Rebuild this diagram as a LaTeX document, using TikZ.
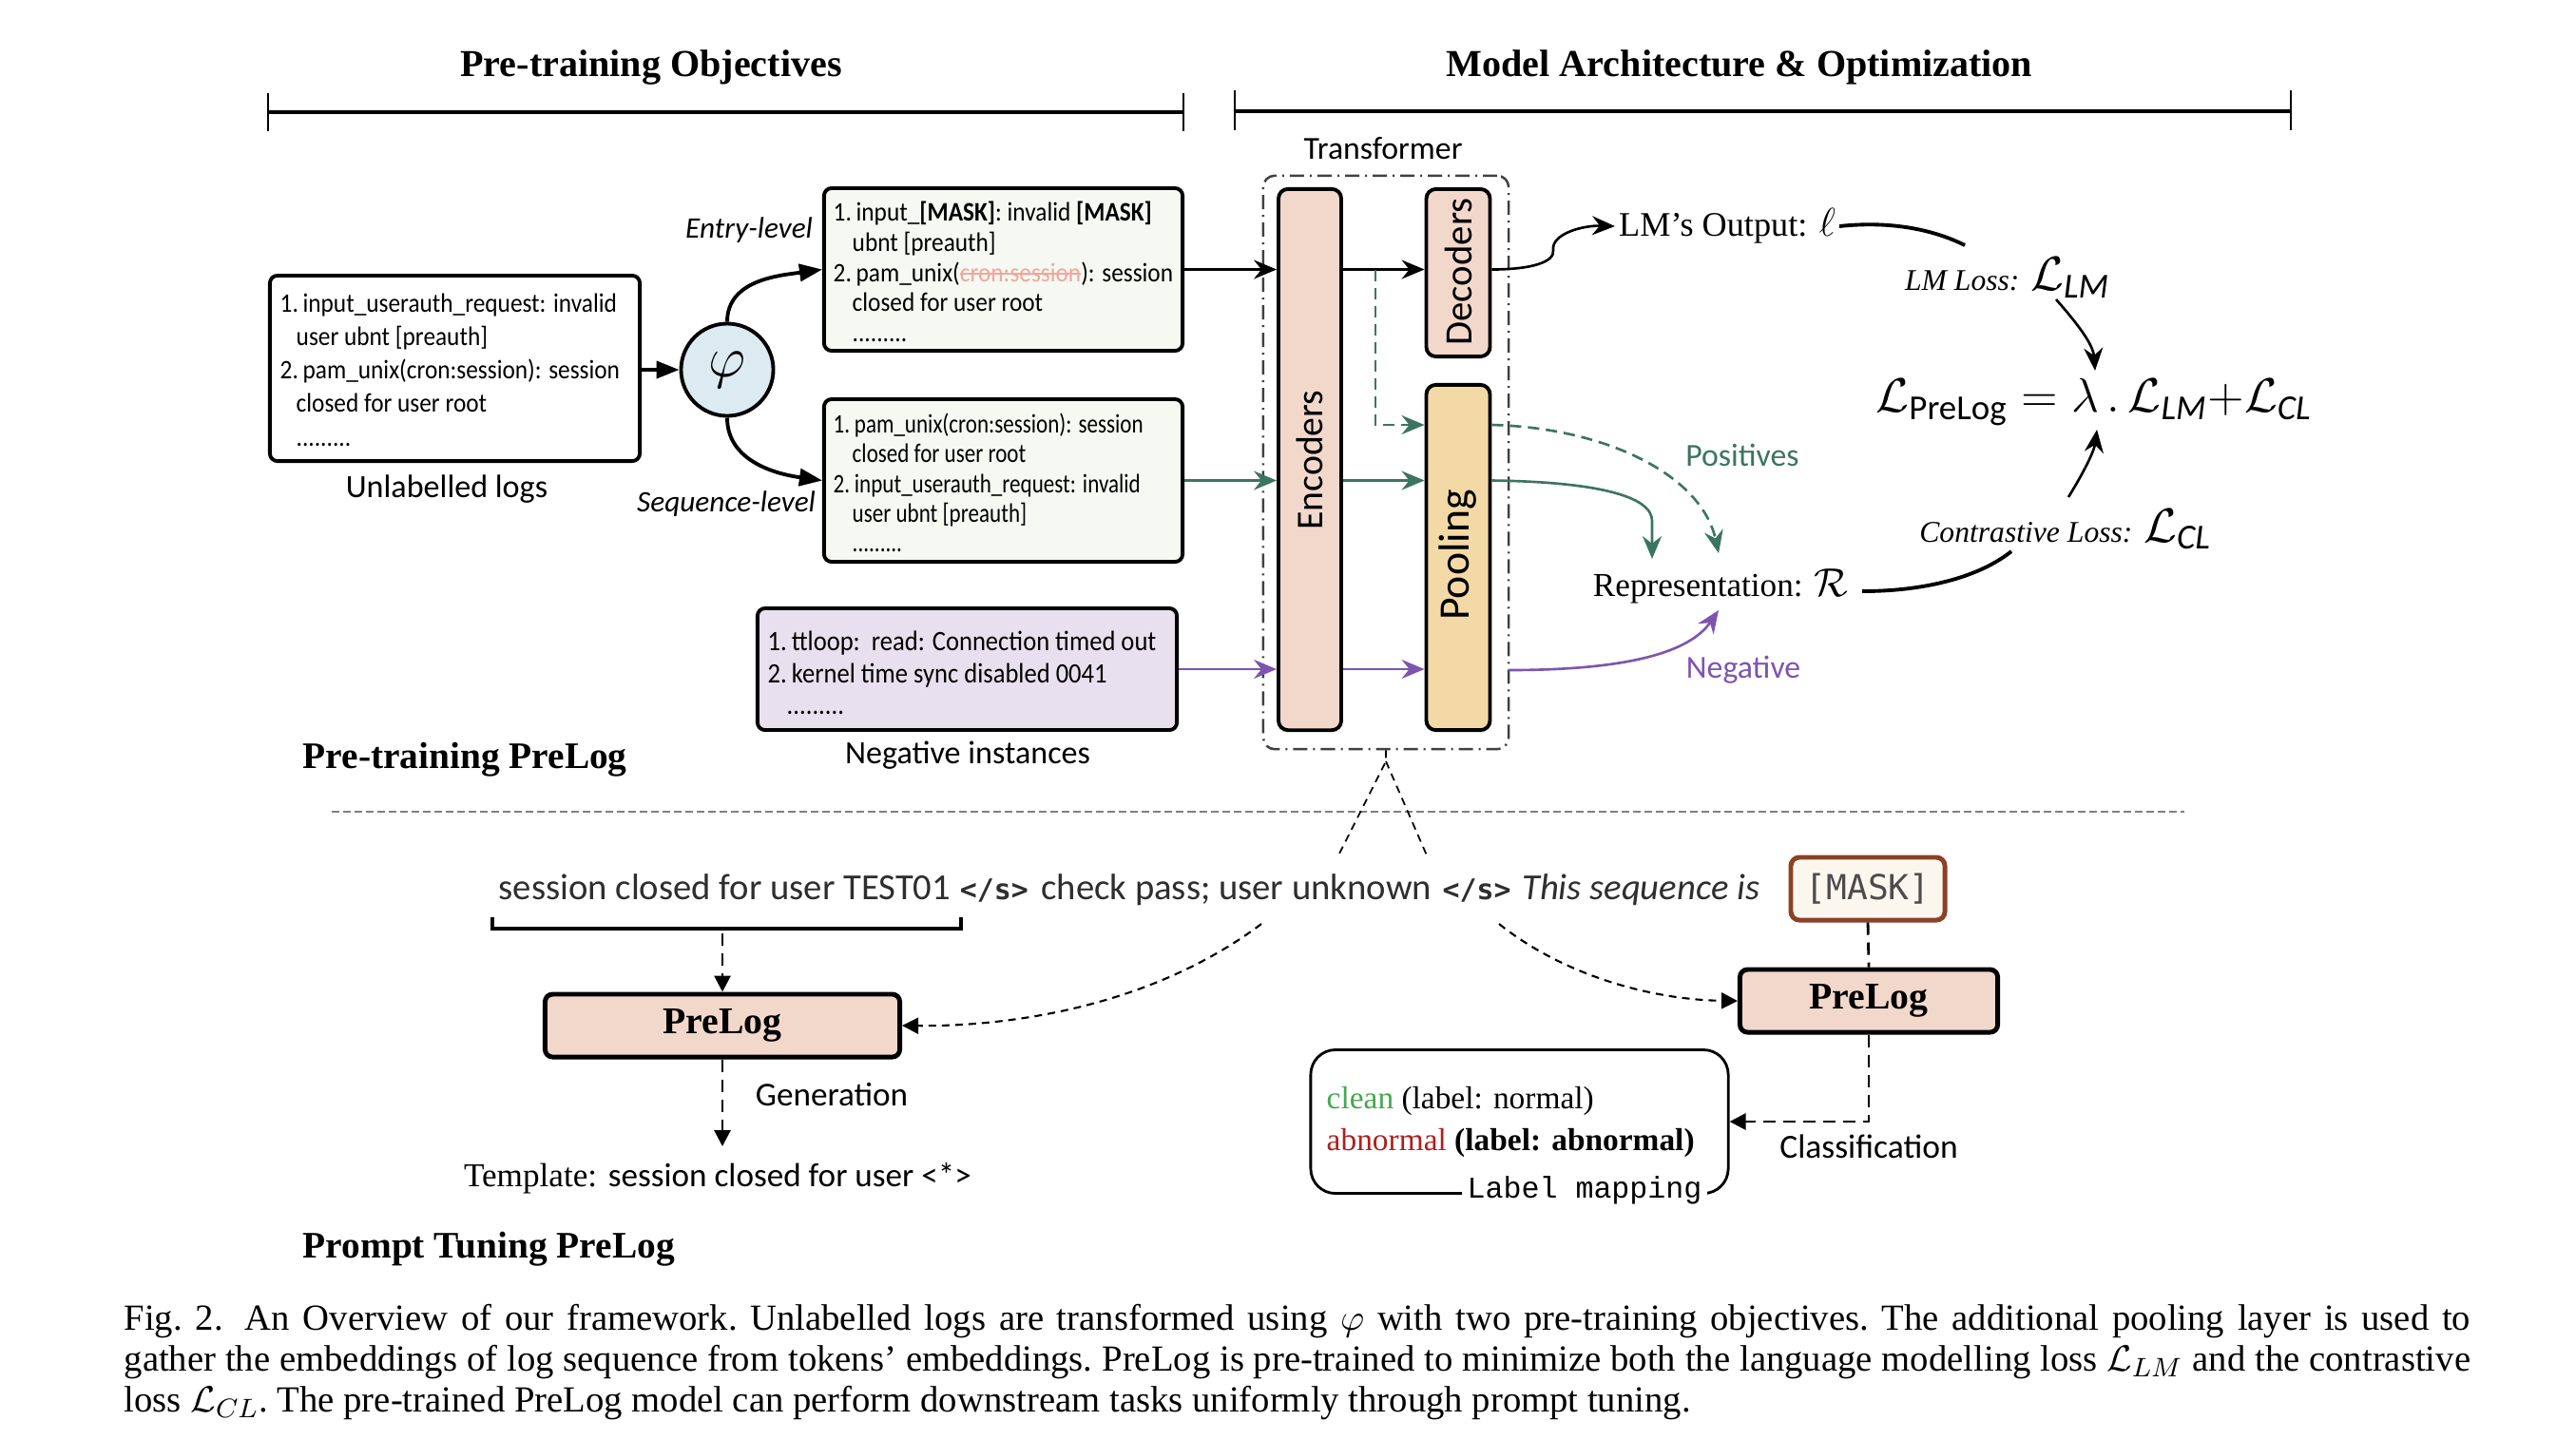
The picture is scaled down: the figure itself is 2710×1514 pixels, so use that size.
\documentclass[tikz,border=0pt]{standalone}
\usepackage{fontspec}
\setmainfont{Liberation Serif}
\newfontfamily\carl{Carlito}
\newfontfamily\carlc[FakeStretch=0.9]{Carlito}
\newfontfamily\carlcc[FakeStretch=0.82]{Carlito}
\newfontfamily\dmono{DejaVu Sans Mono}
\newfontfamily\lmono{Liberation Mono}
\usetikzlibrary{arrows.meta,calc}
\definecolor{peach}{HTML}{F2D8CB}
\definecolor{wheat}{HTML}{F3D9A6}
\definecolor{mint}{HTML}{F6F9F2}
\definecolor{lav}{HTML}{E8E0EE}
\definecolor{phic}{HTML}{DCEAF2}
\definecolor{grn}{HTML}{3B7561}
\definecolor{pur}{HTML}{7D55B0}
\definecolor{brn}{HTML}{8A4125}
\definecolor{cream}{HTML}{FBF7EF}
\definecolor{cleang}{HTML}{45A84E}
\definecolor{abnr}{HTML}{B01E1E}
\definecolor{sentc}{HTML}{2E2E2E}
\definecolor{strkc}{HTML}{F2A79C}
\newcommand\strk[1]{{\color{strkc}\setbox0\hbox{#1}\rlap{\rule[0.55ex]{\wd0}{0.5pt}}\box0}}
\begin{document}
\begin{tikzpicture}[x=0.01cm,y=0.01cm,
  rbox/.style={draw, line width=1.1pt, rounded corners=0.08cm, inner sep=0pt},
  btxt/.style={anchor=west, align=left, inner sep=0pt},
  blk/.style={-{Stealth[length=0.24cm,width=0.2cm,inset=0.08cm]}, line width=0.75pt},
  gdsh/.style={blk, color=grn, dash pattern=on 0.12cm off 0.07cm},
  tri/.style={-{Triangle[length=0.24cm,width=0.18cm]}, line width=1.1pt},
  darr/.style={-{Triangle[length=0.17cm,width=0.17cm]}, line width=0.8pt, dash pattern=on 0.13cm off 0.08cm},
  dline/.style={line width=0.8pt, dash pattern=on 0.13cm off 0.08cm},
  dcurve/.style={-{Triangle[length=0.17cm,width=0.17cm]}, line width=0.6pt, dash pattern=on 0.08cm off 0.06cm},
  thindash/.style={line width=0.5pt, dash pattern=on 0.08cm off 0.06cm},
  tbox/.style={draw=black!75, line width=0.7pt, dash pattern=on 0.15cm off 0.06cm on 0.02cm off 0.06cm, rounded corners=0.12cm, inner sep=0pt},
  sepline/.style={draw=black!50, line width=0.5pt, dash pattern=on 0.08cm off 0.04cm},
  hdr/.style={font=\bfseries\fontsize{11.4}{13}\selectfont},
  lbl/.style={font=\carl\fontsize{9.7}{11}\selectfont},
]
\fill[white] (0,0) rectangle (2710,-1514);
\useasboundingbox (0,0) rectangle (2710,-1514);

% headers
\node[hdr] (h1) at (685,-71) {Pre-training Objectives};
\node[hdr] (h2) at (1830,-71) {Model Architecture \& Optimization};
\draw[line width=1.3pt] (282,-118) -- (1245,-118);
\draw[line width=0.6pt] (282,-98) -- (282,-138);
\draw[line width=0.6pt] (1245,-98) -- (1245,-138);
\draw[line width=1.3pt] (1299,-117) -- (2410,-117);
\draw[line width=0.6pt] (1299,-95) -- (1299,-137);
\draw[line width=0.6pt] (2410,-95) -- (2410,-137);

% left boxes
\node[rbox, fill=white, minimum width=3.89cm, minimum height=1.95cm] (ulog) at (478.5,-387.5) {};
\node[btxt, font=\carlc\fontsize{8}{10}\selectfont] (ulogt) at (294,-389)
  {1.\,input\_userauth\_request: invalid\\\hspace*{0.17cm}user ubnt [preauth]\\2.\,pam\_unix(cron:session): session\\\hspace*{0.17cm}closed for user root\\\hspace*{0.17cm}.........};
\node[lbl] (ulab) at (470,-515) {Unlabelled logs};

\node[rbox, fill=mint, minimum width=3.77cm, minimum height=1.71cm] (ent) at (1055.5,-283.5) {};
\node[btxt, font=\carlc\fontsize{8}{9}\selectfont] (entt) at (876,-286)
  {1.\,input\_\textbf{[MASK]}: invalid \textbf{[MASK]}\\\hspace*{0.2cm}ubnt [preauth]\\2.\,pam\_unix(\strk{cron:session}): session\\\hspace*{0.2cm}closed for user root\\\hspace*{0.2cm}.........};

\node[rbox, fill=mint, minimum width=3.77cm, minimum height=1.71cm] (seq) at (1055.5,-505.5) {};
\node[btxt, font=\carlcc\fontsize{8}{8.9}\selectfont] (seqt) at (876,-508)
  {1.\,pam\_unix(cron:session): session\\\hspace*{0.2cm}closed for user root\\2.\,input\_userauth\_request: invalid\\\hspace*{0.2cm}user ubnt [preauth]\\\hspace*{0.2cm}.........};

\node[rbox, fill=lav, minimum width=4.41cm, minimum height=1.28cm] (neg) at (1017.5,-704) {};
\node[btxt, font=\carlc\fontsize{8.4}{9.5}\selectfont] (negt) at (807,-708)
  {1.\,ttloop:\ \ read: Connection timed out\\2.\,kernel time sync disabled 0041\\\hspace*{0.2cm}.........};
\node[lbl] (nlab) at (1018,-795) {Negative instances};

\node[font=\carl\itshape\fontsize{8.9}{10}\selectfont] (elab) at (788,-242) {Entry-level};
\node[font=\carl\itshape\fontsize{8.9}{10}\selectfont] (slab) at (764,-530) {Sequence-level};

\node[circle, draw, line width=1.1pt, fill=phic, minimum size=0.97cm, inner sep=0pt,
  font=\fontsize{17}{18}\selectfont] (phi) at (765,-389) {$\varphi$};
\draw[tri] (ulog.east |- phi) -- (phi.west);
\draw[tri] (phi.north) to[out=90,in=188] (ent.west);
\draw[tri] (phi.south) to[out=-90,in=172] (seq.west);

% transformer
\node[tbox, minimum width=2.58cm, minimum height=6.03cm] (tf) at (1458,-486.5) {};
\node[font=\carl\fontsize{9.6}{11}\selectfont] (tlab) at (1455,-156) {Transformer};
\node[rbox, fill=peach, minimum width=0.66cm, minimum height=5.69cm, rounded corners=0.1cm] (enc) at (1378,-483.5) {};
\node[rotate=90, font=\carl\fontsize{11.3}{12}\selectfont] (enct) at (1378,-484) {Encoders};
\node[rbox, fill=peach, minimum width=0.67cm, minimum height=1.76cm, rounded corners=0.1cm] (dec) at (1534,-287) {};
\node[rotate=90, font=\carl\fontsize{11.6}{12}\selectfont] (dect) at (1534,-286) {Decoders};
\node[rbox, fill=wheat, minimum width=0.67cm, minimum height=3.63cm, rounded corners=0.1cm] (pool) at (1534,-586.5) {};
\node[rotate=90, font=\carl\fontsize{13}{14}\selectfont] (poolt) at (1534,-584) {Pooling};

\draw[blk] (ent.east) -- (enc.west |- ent.east);
\draw[blk, color=grn] (seq.east) -- (enc.west |- seq.east);
\draw[blk, color=pur] (neg.east) -- (enc.west |- neg.east);
\draw[blk] (enc.east |- ent.east) -- (dec.west |- ent.east);
\coordinate (gsplit) at (1447,-283.5);
\coordinate (gturn) at (1447,-447);
\draw[gdsh] (gsplit) -- (gturn) -- (pool.west |- gturn);
\draw[blk, color=grn] (enc.east |- seq.east) -- (pool.west |- seq.east);
\draw[blk, color=pur] (enc.east |- neg.east) -- (pool.west |- neg.east);

% outputs
\node[inner sep=1pt, font=\fontsize{10.3}{12}\selectfont] (lmout) at (1817,-238) {LM’s Output: {\fontsize{13}{14}\selectfont$\ell$}};
\draw[blk] (dec.east |- ent.east) .. controls (1610,-283.5) and (1636,-276) .. (1634,-263) .. controls (1632,-246) and (1665,-237) .. (lmout.west);
\coordinate (lmlend) at (2067,-258);
\draw[line width=1.1pt] (lmout.east) .. controls (1990,-232) and (2035,-242) .. (lmlend);

\node[inner sep=0pt] (lmloss) at (2112,-292) {{\itshape\fontsize{9}{10}\selectfont LM Loss:} {\fontsize{15}{16}\selectfont$\mathcal{L}_{\hbox{\carl\itshape\fontsize{10.5}{11}\selectfont LM}}$}};
\node[inner sep=0pt] (lpre) at (2203,-423) {\fontsize{15}{18}\selectfont$\mathcal{L}_{\hbox{\carl\fontsize{10.5}{12}\selectfont PreLog}} = \lambda\,.\,\mathcal{L}_{\hbox{\carl\itshape\fontsize{10.5}{12}\selectfont LM}}{+}\mathcal{L}_{\hbox{\carl\itshape\fontsize{10.5}{12}\selectfont CL}}$};
\node[inner sep=0pt] (cl) at (2173,-557) {{\itshape\fontsize{9}{10}\selectfont Contrastive Loss:} {\fontsize{15}{16}\selectfont$\mathcal{L}_{\hbox{\carl\itshape\fontsize{10.5}{11}\selectfont CL}}$}};
\coordinate (a1s) at (2163,-315);
\coordinate (a1e) at (2204,-390);
\draw[blk] (a1s) .. controls (2185,-340) and (2202,-362) .. (a1e);
\coordinate (a2s) at (2176,-523);
\coordinate (a2e) at (2206,-452);
\draw[blk] (a2s) .. controls (2192,-497) and (2203,-475) .. (a2e);

\node[inner sep=1pt, font=\fontsize{10}{12}\selectfont] (rep) at (1810,-617) {Representation: {\fontsize{13}{14}\selectfont$\mathcal{R}$}};
\coordinate (rstart) at (1959,-622);
\coordinate (clstart) at (2116,-580);
\draw[line width=1.1pt] (rstart) .. controls (2030,-622) and (2085,-605) .. (clstart);

\node[text=grn, font=\carl\fontsize{9.6}{11}\selectfont] (pos) at (1833,-479) {Positives};
\node[text=pur, font=\carl\fontsize{9.6}{11}\selectfont] (negl) at (1834,-705) {Negative};
\coordinate (gtip) at (1738,-588);
\coordinate (dtip) at (1808,-582);
\coordinate (ptip) at (1808,-642);
\coordinate (pstart) at (1587,-705);
\draw[blk, color=grn] (pool.east |- seq.east) .. controls (1680,-507) and (1738,-522) .. (1738,-548) -- (gtip);
\draw[gdsh] (pool.east |- gturn) .. controls (1690,-450) and (1790,-500) .. (dtip);
\draw[blk, color=pur] (pstart) .. controls (1700,-705) and (1775,-690) .. (ptip);

\node[anchor=west, inner sep=0pt, font=\bfseries\fontsize{11.2}{13}\selectfont] (ptl) at (318,-799) {Pre-training PreLog};
\draw[sepline] (349,-854) -- (2298,-854);

% zoom lines
\coordinate (apex) at (1458,-801);
\coordinate (apl) at (1408,-900);
\coordinate (apr) at (1501,-900);
\draw[thindash] (tf.south) -- (apex) -- (apl);
\draw[thindash] (apex) -- (apr);

% prompt tuning
\node[anchor=base west, inner sep=0pt, text=sentc, font=\carl\fontsize{11}{13}\selectfont] (sentn) at (524,-946)
  {session closed for user TEST01\hspace{0.25em}{\dmono\bfseries\fontsize{8.5}{10}\selectfont</s>}\hspace{0.35em}check pass; user unknown\hspace{0.3em}{\dmono\bfseries\fontsize{8.5}{10}\selectfont</s>}\hspace{0.3em}\textit{This sequence is}};
\node[draw=brn, line width=1.4pt, fill=cream, rounded corners=0.09cm, minimum width=1.62cm, minimum height=0.66cm, inner sep=0pt,
  text=black!70, font=\dmono\fontsize{10.3}{12}\selectfont] (mask) at (1965,-935) {[MASK]};
\draw[line width=1pt] (518,-965) -- (518,-977) -- (1011,-977) -- (1011,-965);
\coordinate (brc) at (760,-982);

\node[rbox, fill=peach, line width=1.4pt, minimum width=3.73cm, minimum height=0.66cm,
  font=\bfseries\fontsize{11.3}{13}\selectfont] (plL) at (760,-1079) {PreLog};
\draw[darr] (brc) -- (plL.north);
\coordinate (genend) at (760,-1206);
\draw[darr] (plL.south) -- (genend);
\node[font=\carl\fontsize{10}{12}\selectfont] (gen) at (875,-1151) {Generation};
\node (tmpl) at (755,-1240) {{\fontsize{10}{12}\selectfont Template:} {\carl\fontsize{10}{12}\selectfont session closed for user <*>}};

\coordinate (lcs) at (1327,-972);
\coordinate (rcs) at (1577,-972);
\draw[dcurve] (lcs) .. controls (1210,-1060) and (1060,-1080) .. (plL.east);
\node[rbox, fill=peach, line width=1.4pt, minimum width=2.71cm, minimum height=0.66cm,
  font=\bfseries\fontsize{11.3}{13}\selectfont] (plR) at (1966,-1053) {PreLog};
\draw[dcurve] (rcs) .. controls (1650,-1030) and (1745,-1052) .. (plR.west);

\node[draw, line width=0.8pt, rounded corners=0.26cm, minimum width=4.39cm, minimum height=1.51cm] (lmap) at (1598.5,-1180) {};
\draw[dline] (mask.south) -- (plR.north);
\draw[darr] (plR.south) -- (plR.south |- lmap.east) -- (lmap.east);
\node[font=\carl\fontsize{10.1}{12}\selectfont] (cls) at (1966,-1206) {Classification};
\node[anchor=west, inner sep=0pt, font=\fontsize{9.5}{11}\selectfont] (clean) at (1395,-1158) {\textcolor{cleang}{clean} (label: normal)};
\node[anchor=west, inner sep=0pt, font=\fontsize{9.5}{11}\selectfont] (abn) at (1395,-1202) {\textcolor{abnr}{abnormal} \textbf{(label: abnormal)}};
\node[fill=white, inner sep=1.5pt, font=\lmono\fontsize{9}{10}\selectfont] (lmt) at (1667,-1252) {Label mapping};

\node[anchor=west, inner sep=0pt, font=\bfseries\fontsize{11.2}{13}\selectfont] (ptn) at (318,-1314) {Prompt Tuning PreLog};

% caption
\node[anchor=north west, inner sep=0pt, text width=24.67cm, align=justify, font=\frenchspacing\fontsize{11}{12.2}\selectfont] (cap) at (130,-1372)
  {Fig.~2.\hspace{0.6em}An Overview of our framework. Unlabelled logs are transformed using $\varphi$ with two pre-training objectives. The additional pooling layer is used to\linebreak gather the embeddings of log sequence from tokens’ embeddings. PreLog is pre-trained to minimize both the language modelling loss $\mathcal{L}_{LM}$ and the contrastive\linebreak loss $\mathcal{L}_{CL}$. The pre-trained PreLog model can perform downstream tasks uniformly through prompt tuning.};
\end{tikzpicture}
\end{document}
